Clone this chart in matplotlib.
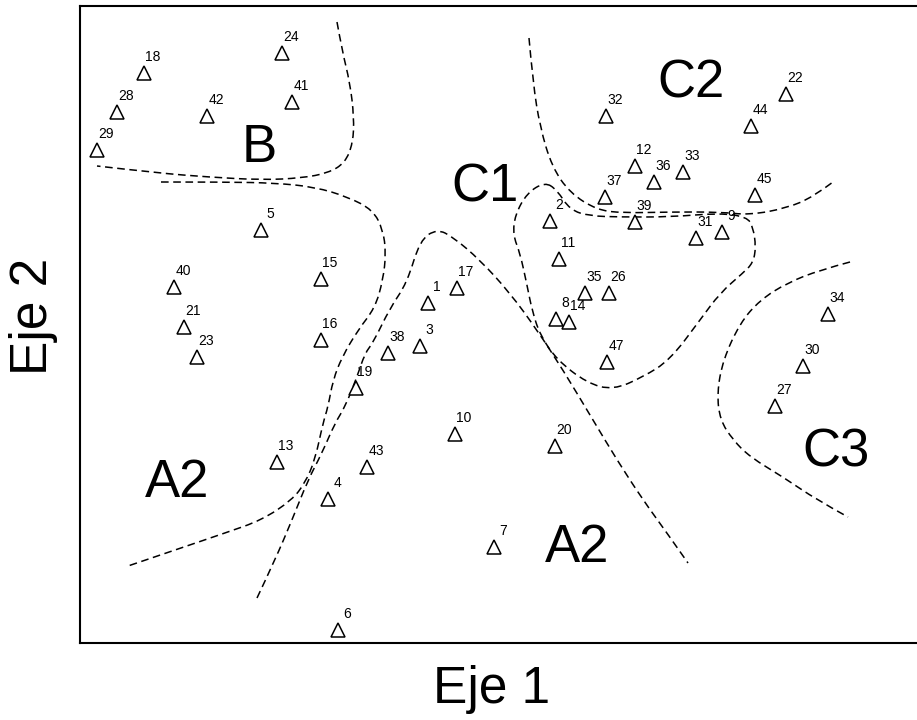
import numpy as np
import matplotlib
matplotlib.use("Agg")
import matplotlib.pyplot as plt
from matplotlib.path import Path
from matplotlib.patches import PathPatch

plt.rcParams['font.family'] = ['Liberation Sans', 'DejaVu Sans']

# point ids and positions (screen-like units, y grows down)
ids = [1, 2, 3, 4, 5, 6, 7, 8, 9, 10, 11, 12, 13, 14, 15, 16, 17, 18, 19, 20,
       21, 22, 23, 24, 26, 27, 28, 29, 30, 31, 32, 33, 34, 35, 36, 37, 38, 39,
       40, 41, 42, 43, 44, 45, 47]
px = [428, 550, 420, 328, 261, 338, 494, 556, 722, 455, 559, 635, 277, 569, 321,
      321, 457, 144, 356, 555, 184, 786, 197, 282, 609, 775, 117, 97, 803, 696,
      606, 683, 828, 585, 654, 605, 388, 635, 174, 292, 207, 367, 751, 755, 607]
py = [303, 221, 346, 499, 230, 630, 547, 319, 232, 434, 259, 166, 462, 322, 279,
      340, 288, 73, 388, 446, 327, 94, 357, 53, 293, 406, 112, 150, 366, 238,
      116, 172, 314, 293, 182, 197, 353, 222, 287, 102, 116, 467, 126, 195, 362]

# group labels
groups = ['B', 'C1', 'C2', 'C3', 'A2', 'A2']
gx = [259, 485, 691, 836, 177, 577]
gy = [148, 187, 83, 452, 483, 548]

# dashed boundaries (guide points)
b_top_x = [337, 342, 350, 354, 353, 345, 328, 302, 262, 208, 158, 97]
b_top_y = [22, 50, 83, 117, 143, 163, 173, 178, 180, 177, 173, 166]

a_left_x = [161, 225, 275, 315, 348, 373, 383, 386, 383, 375, 358, 342, 333,
            328, 323, 315, 305, 292, 262, 225, 175, 128]
a_left_y = [182, 182, 183, 187, 197, 210, 230, 253, 280, 308, 330, 357, 380,
            407, 423, 460, 483, 500, 520, 533, 550, 566]

peak_x = [257, 275, 292, 308, 322, 335, 345, 357, 365, 373, 390, 407, 420, 437,
          453, 480, 510, 537, 563, 593, 617, 643, 667, 688]
peak_y = [598, 560, 520, 480, 453, 423, 407, 377, 353, 343, 308, 283, 240, 229,
          237, 260, 293, 330, 370, 420, 460, 500, 533, 563]

c2_x = [529, 533, 540, 552, 570, 597, 623, 670, 720, 750, 787, 813, 833]
c2_y = [38, 83, 127, 167, 193, 210, 213, 212, 212, 215, 208, 197, 182]

# closed loop round C1 cluster
c1_x = [545, 527, 515, 513, 520, 527, 532, 540, 557, 587, 613, 643, 670,
        700, 720, 743, 753, 756, 753, 747, 720, 670, 620, 590, 570, 557]
c1_y = [182, 193, 215, 235, 253, 285, 310, 335, 360, 383, 390, 377, 360,
        320, 293, 273, 263, 247, 227, 217, 213, 217, 217, 216, 210, 190]

c3_x = [850, 820, 787, 760, 740, 723, 717, 720, 733, 750, 783, 817, 848]
c3_y = [262, 270, 283, 300, 323, 360, 393, 420, 440, 457, 477, 500, 517]


def smooth_path(xs, ys, closed=False):
    # quadratic bezier through midpoints, guide points as control points
    p = np.column_stack([xs, ys]).astype(float)
    n = len(p)
    if closed:
        verts = [(p[-1] + p[0]) / 2]
        codes = [Path.MOVETO]
        for i in range(n):
            verts += [p[i], (p[i] + p[(i + 1) % n]) / 2]
            codes += [Path.CURVE3, Path.CURVE3]
    else:
        verts = [p[0]]
        codes = [Path.MOVETO]
        for i in range(1, n - 1):
            end = p[i + 1] if i == n - 2 else (p[i] + p[i + 1]) / 2
            verts += [p[i], end]
            codes += [Path.CURVE3, Path.CURVE3]
    return Path(verts, codes)


fig = plt.figure(figsize=(9.17, 7.2), dpi=100)
ax = fig.add_axes([80 / 917, 77 / 720, 840 / 917, 637 / 720])

for cx, cy, cl in [(b_top_x, b_top_y, False), (a_left_x, a_left_y, False),
                   (peak_x, peak_y, False), (c2_x, c2_y, False),
                   (c1_x, c1_y, True), (c3_x, c3_y, False)]:
    ax.add_patch(PathPatch(smooth_path(cx, cy, cl), fill=False, ec='black',
                           lw=1.1, linestyle=(0, (5, 3))))

ax.plot(px, py, linestyle='none', marker='^', ms=9.5, mfc='white', mec='black',
        mew=1.1)
for i, x, y in zip(ids, px, py):
    ax.annotate(str(i), (x, y), xytext=(6.5, 11.5), textcoords='offset points',
                ha='center', va='center', fontsize=10)

for g, x, y in zip(groups, gx, gy):
    ax.text(x, y, g, ha='center', va='center', fontsize=38)

ax.set_xlim(80, 920)
ax.set_ylim(643, 6)
ax.set_xticks([])
ax.set_yticks([])
for s in ax.spines.values():
    s.set_linewidth(1.5)

fig.text(492 / 917, 1 - 690 / 720, 'Eje 1', ha='center', va='center', fontsize=37)
fig.text(33 / 917, 1 - 316 / 720, 'Eje 2', ha='center', va='center', fontsize=37,
         rotation=90)

fig.savefig('out.png', dpi=100)
